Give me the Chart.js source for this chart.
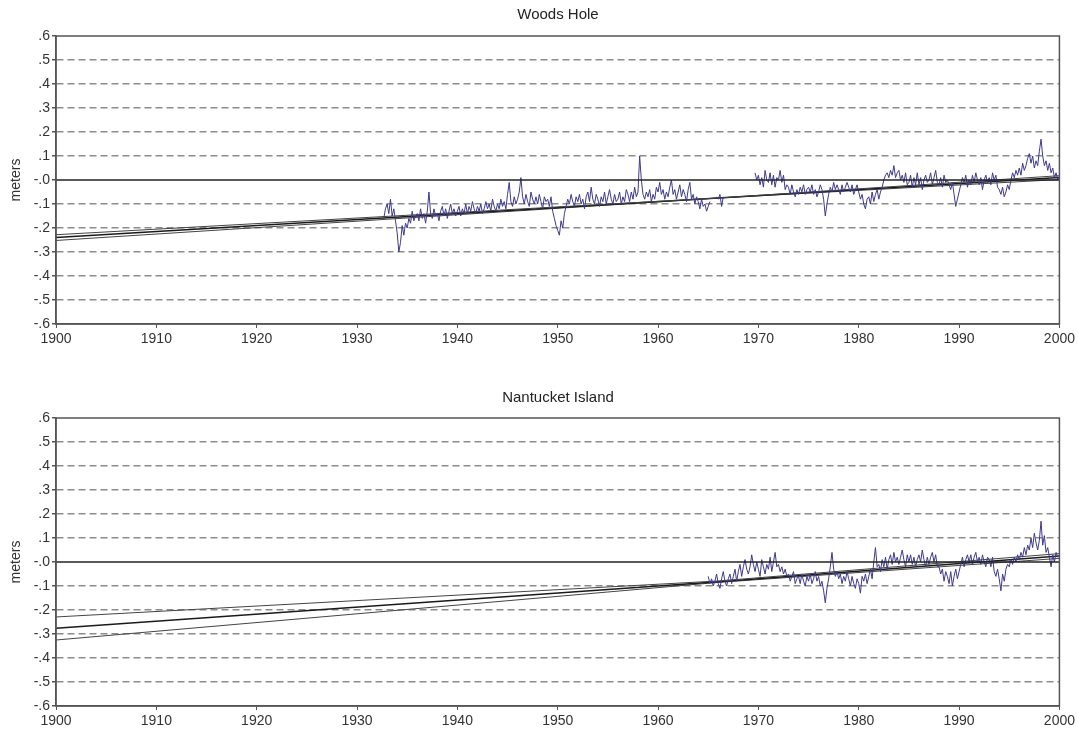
<!DOCTYPE html>
<html>
<head>
<meta charset="utf-8">
<script src="https://cdn.jsdelivr.net/npm/chart.js@4/dist/chart.umd.min.js"></script>
<style>
  body { margin: 0; background: #fff; }
  #wrap { position: relative; width: 1078px; height: 731px; }
  .box { position: absolute; left: 0; width: 1078px; height: 349px; }
  .ttl { position: absolute; left: 56px; width: 1004px; text-align: center;
         font: 15px 'Liberation Sans', Arial, sans-serif; color: #222; line-height: 18px; }
</style>
</head>
<body>
<div id="wrap">
  <div class="box" style="top:0"><canvas id="woodsChart"></canvas></div>
  <div class="box" style="top:382px"><canvas id="nantucketChart"></canvas></div>
  <div class="ttl" style="top:5px">Woods Hole</div>
  <div class="ttl" style="top:388px">Nantucket Island</div>
</div>
<script>
// x ticks (years) and y ticks (meters)
const yearTicks = [1900, 1910, 1920, 1930, 1940, 1950, 1960, 1970, 1980, 1990, 2000];
const meterTicks = [0.6, 0.5, 0.4, 0.3, 0.2, 0.1, 0, -0.1, -0.2, -0.3, -0.4, -0.5, -0.6];

// Woods Hole: bimonthly readings, first one at 1932.67 (null = no data)
const woodsStart = 1932 + 4 / 6;
const woodsValues = [
  -0.16, -0.12,                               // 1932
  -0.10, -0.14, -0.08, -0.15, -0.12, -0.17,   // 1933
  -0.22, -0.30, -0.26, -0.19, -0.23, -0.18,   // 1934
  -0.20, -0.16, -0.18, -0.13, -0.17, -0.15,   // 1935
  -0.14, -0.17, -0.12, -0.16, -0.14, -0.18,   // 1936
  -0.13, -0.05, -0.14, -0.16, -0.12, -0.15,   // 1937
  -0.14, -0.17, -0.13, -0.11, -0.15, -0.12,   // 1938
  -0.16, -0.13, -0.10, -0.14, -0.12, -0.15,   // 1939
  -0.13, -0.11, -0.15, -0.12, -0.14, -0.10,   // 1940
  -0.14, -0.11, -0.13, -0.09, -0.12, -0.14,   // 1941
  -0.11, -0.13, -0.10, -0.14, -0.12, -0.09,   // 1942
  -0.12, -0.10, -0.13, -0.08, -0.11, -0.13,   // 1943
  -0.10, -0.12, -0.08, -0.11, -0.09, -0.12,   // 1944
  -0.06, -0.01, -0.09, -0.11, -0.07, -0.10,   // 1945
  -0.08, -0.05, 0.01, -0.07, -0.10, -0.06,    // 1946
  -0.09, -0.11, -0.05, -0.08, -0.10, -0.07,   // 1947
  -0.10, -0.06, -0.09, -0.12, -0.07, -0.09,   // 1948
  -0.08, -0.11, -0.07, -0.13, -0.16, -0.19,   // 1949
  -0.21, -0.23, -0.17, -0.20, -0.14, -0.11,   // 1950
  -0.08, -0.10, -0.06, -0.09, -0.11, -0.07,   // 1951
  -0.09, -0.06, -0.10, -0.08, -0.12, -0.07,   // 1952
  -0.05, -0.09, -0.03, -0.08, -0.10, -0.06,   // 1953
  -0.08, -0.11, -0.07, -0.09, -0.05, -0.10,   // 1954
  -0.07, -0.04, -0.08, -0.10, -0.06, -0.09,   // 1955
  -0.08, -0.05, -0.10, -0.07, -0.09, -0.04,   // 1956
  -0.06, -0.09, -0.05, -0.08, -0.03, -0.07,   // 1957
  -0.05, 0.10, 0.00, -0.06, -0.08, -0.05,     // 1958
  -0.07, -0.04, -0.09, -0.06, -0.08, -0.03,   // 1959
  -0.05, -0.01, -0.06, -0.04, -0.08, -0.05,   // 1960
  -0.07, -0.03, 0.00, -0.06, -0.04, -0.08,    // 1961
  -0.05, -0.02, -0.07, -0.04, -0.06, -0.09,   // 1962
  -0.04, -0.01, -0.08, -0.06, -0.10, -0.07,   // 1963
  -0.09, -0.12, -0.08, -0.11, -0.10, -0.13,   // 1964
  -0.11, -0.09, null, null, null, -0.07,      // 1965
  -0.08, -0.06, -0.11, -0.07, null, null,     // 1966
  null, null, null, null, null, null,         // 1967
  null, null, null, null, null, null,         // 1968
  null, null, null, null, 0.03, 0.00,         // 1969
  0.02, -0.02, 0.01, -0.03, 0.04, 0.00,       // 1970
  -0.01, 0.03, -0.02, 0.02, -0.03, 0.01,      // 1971
  0.00, 0.04, -0.01, 0.02, -0.04, -0.02,      // 1972
  -0.03, -0.06, -0.02, -0.05, -0.07, -0.04,   // 1973
  -0.06, -0.03, -0.05, -0.02, -0.06, -0.04,   // 1974
  -0.03, -0.05, -0.02, -0.06, -0.04, -0.07,   // 1975
  -0.05, -0.02, -0.04, -0.08, -0.15, -0.10,   // 1976
  -0.06, -0.03, -0.05, -0.01, -0.04, -0.02,   // 1977
  -0.04, -0.06, -0.02, -0.05, -0.03, -0.01,   // 1978
  -0.03, -0.05, -0.02, -0.06, -0.04, -0.02,   // 1979
  -0.05, -0.08, -0.06, -0.10, -0.12, -0.08,   // 1980
  -0.07, -0.10, -0.05, -0.09, -0.06, -0.04,   // 1981
  -0.08, -0.05, -0.03, 0.00, 0.02, 0.03,      // 1982
  0.01, 0.04, 0.02, 0.06, 0.01, 0.03,         // 1983
  0.04, 0.00, 0.02, -0.01, 0.03, -0.02,       // 1984
  -0.01, 0.02, -0.03, 0.01, -0.02, 0.03,      // 1985
  -0.02, 0.01, -0.04, 0.00, 0.02, -0.01,      // 1986
  0.00, 0.03, -0.02, 0.01, 0.04, -0.01,       // 1987
  -0.02, 0.01, -0.03, 0.02, -0.01, 0.00,      // 1988
  -0.02, -0.04, -0.01, -0.06, -0.11, -0.08,   // 1989
  -0.05, -0.02, 0.01, -0.01, 0.02, -0.03,     // 1990
  0.00, -0.02, 0.02, -0.01, 0.03, 0.00,       // 1991
  -0.02, 0.01, -0.04, 0.00, 0.02, -0.01,      // 1992
  0.01, -0.02, 0.03, 0.00, 0.02, -0.03,       // 1993
  -0.04, -0.06, -0.03, -0.07, -0.05, -0.02,   // 1994
  -0.04, 0.00, 0.03, 0.01, 0.04, 0.02,        // 1995
  0.05, 0.02, 0.07, 0.04, 0.06, 0.09,         // 1996
  0.11, 0.07, 0.10, 0.05, 0.08, 0.06,         // 1997
  0.12, 0.17, 0.10, 0.06, 0.08, 0.04,         // 1998
  0.07, 0.03, 0.05, 0.01, 0.03, 0.00,         // 1999
  0.01                                        // 2000
];

// Nantucket Island: bimonthly readings from 1965.0
const nantucketStart = 1965;
const nantucketValues = [
  -0.06, -0.09, -0.07, -0.10, -0.08, -0.05,   // 1965
  -0.09, -0.11, -0.07, -0.04, -0.08, -0.10,   // 1966
  -0.07, -0.05, -0.09, -0.06, -0.03, -0.08,   // 1967
  -0.04, -0.01, -0.06, -0.02, 0.01, -0.03,    // 1968
  -0.05, -0.02, 0.03, -0.01, -0.04, 0.00,     // 1969
  -0.03, -0.06, 0.01, -0.02, -0.05, -0.01,    // 1970
  -0.03, 0.02, -0.04, 0.00, 0.04, -0.02,      // 1971
  -0.01, -0.04, -0.02, -0.05, -0.03, -0.06,   // 1972
  -0.05, -0.08, -0.06, -0.04, -0.09, -0.07,   // 1973
  -0.06, -0.09, -0.05, -0.08, -0.10, -0.06,   // 1974
  -0.08, -0.05, -0.09, -0.07, -0.04, -0.08,   // 1975
  -0.06, -0.10, -0.08, -0.12, -0.17, -0.11,   // 1976
  -0.07, -0.02, 0.04, -0.03, -0.06, -0.04,    // 1977
  -0.07, -0.05, -0.09, -0.06, -0.08, -0.04,   // 1978
  -0.07, -0.10, -0.06, -0.09, -0.11, -0.07,   // 1979
  -0.09, -0.13, -0.06, -0.08, -0.05, -0.09,   // 1980
  -0.06, -0.03, -0.07, 0.00, 0.06, -0.02,     // 1981
  -0.01, -0.04, 0.01, -0.02, 0.02, -0.03,     // 1982
  0.01, 0.03, -0.01, 0.04, 0.00, 0.02,        // 1983
  -0.01, 0.02, 0.05, 0.01, -0.02, 0.03,       // 1984
  0.00, 0.03, -0.01, 0.02, -0.02, 0.01,       // 1985
  0.03, 0.00, 0.05, 0.01, -0.02, 0.02,        // 1986
  -0.01, 0.02, 0.04, 0.00, 0.03, -0.02,       // 1987
  -0.02, -0.05, -0.03, -0.08, -0.04, -0.06,   // 1988
  -0.09, -0.04, -0.10, -0.06, -0.03, -0.07,   // 1989
  -0.04, -0.01, 0.02, -0.02, 0.01, 0.03,      // 1990
  0.00, 0.03, -0.01, 0.02, 0.04, 0.00,        // 1991
  0.02, -0.01, 0.03, 0.00, -0.02, 0.02,       // 1992
  0.01, -0.02, 0.02, -0.04, -0.06, -0.03,     // 1993
  -0.07, -0.12, -0.05, -0.08, -0.03, -0.01,   // 1994
  -0.02, 0.01, -0.01, 0.02, 0.00, 0.03,       // 1995
  0.01, 0.04, 0.02, 0.06, 0.03, 0.07,         // 1996
  0.05, 0.10, 0.06, 0.12, 0.08, 0.05,         // 1997
  0.09, 0.17, 0.07, 0.11, 0.04, 0.06,         // 1998
  0.02, -0.02, 0.03, 0.00, 0.04, 0.02,        // 1999
  0.03                                        // 2000
];

// trend line and its two bounds (year, meters)
const woodsTrendYears = [1900, 1966, 2000];
const woodsTrendUpper = [-0.228, -0.075, 0.018];
const woodsTrendMid   = [-0.240, -0.075, 0.010];
const woodsTrendLower = [-0.252, -0.075, 0.002];

const nantucketTrendYears = [1900, 1966, 2000];
const nantucketTrendUpper = [-0.229, -0.079, 0.035];
const nantucketTrendMid   = [-0.276, -0.082, 0.025];
const nantucketTrendLower = [-0.325, -0.085, 0.015];

const FONT = "'Liberation Sans', Arial, sans-serif";

function toPoints(start, values) {
  return values.map((v, i) => ({ x: start + i / 6, y: v }));
}

function pair(xs, ys) {
  return xs.map((x, i) => ({ x: x, y: ys[i] }));
}

function tickText(v) {
  let d = Math.round(Math.abs(v) * 10);
  if (v > 0.001) return "." + d;
  return "-." + d;
}

// solid frame around the plot area
const framePlugin = {
  id: "frame",
  afterDatasetsDraw(chart) {
    const a = chart.chartArea, c = chart.ctx;
    c.save();
    c.strokeStyle = "#555";
    c.lineWidth = 1.5;
    c.strokeRect(a.left, a.top, a.right - a.left, a.bottom - a.top);
    c.restore();
  }
};

function createChart(canvasId, start, values, trendYears, up, mid, low) {
  let ctx = document.getElementById(canvasId).getContext("2d");
  const trendStyle = { borderColor: "#444", borderWidth: 1, pointRadius: 0, fill: false };
  new Chart(ctx, {
    type: "line",
    data: {
      datasets: [
        {
          data: [{ x: 1900, y: 0 }, { x: 2000, y: 0 }],
          borderColor: "#222", borderWidth: 1.5, pointRadius: 0
        },
        {
          data: toPoints(start, values),
          borderColor: "#3d3a8c", borderWidth: 1, pointRadius: 0,
          spanGaps: false, tension: 0
        },
        Object.assign({ data: pair(trendYears, up) }, trendStyle),
        Object.assign({ data: pair(trendYears, mid) }, trendStyle, { borderColor: "#1a1a1a", borderWidth: 1.5 }),
        Object.assign({ data: pair(trendYears, low) }, trendStyle)
      ]
    },
    options: {
      responsive: true,
      maintainAspectRatio: false,
      animation: false,
      layout: { padding: { left: 0, right: 18, top: 36, bottom: 0 } },
      plugins: {
        legend: { display: false },
        tooltip: { enabled: false },
        title: { display: false }
      },
      scales: {
        x: {
          type: "linear",
          min: 1900, max: 2000,
          afterBuildTicks: s => { s.ticks = yearTicks.map(v => ({ value: v })); },
          afterFit: s => { s.height = 25; },
          ticks: {
            color: "#333",
            font: { family: FONT, size: 14 },
            padding: 3,
            maxRotation: 0,
            callback: v => String(v)
          },
          grid: { drawOnChartArea: false, tickLength: 4, tickColor: "#555" },
          border: { color: "#555", width: 1.5 }
        },
        y: {
          min: -0.6, max: 0.6,
          afterBuildTicks: s => { s.ticks = meterTicks.map(v => ({ value: v })); },
          afterFit: s => { s.width = 56; },
          ticks: {
            color: "#333",
            font: { family: FONT, size: 14 },
            padding: 2,
            callback: v => tickText(v)
          },
          title: {
            display: true,
            text: "meters",
            color: "#333",
            font: { family: FONT, size: 14 },
            padding: { top: 8, bottom: 0 }
          },
          grid: {
            tickLength: 4,
            tickColor: "#555",
            lineWidth: 1.5,
            color: c => (Math.abs(c.tick.value) < 0.001 || Math.abs(Math.abs(c.tick.value) - 0.6) < 0.001) ? "rgba(0,0,0,0)" : "#8c8c8c"
          },
          border: { color: "#555", width: 1.5, dash: [7, 4] }
        }
      }
    },
    plugins: [framePlugin]
  });
}

createChart("woodsChart", woodsStart, woodsValues,
  woodsTrendYears, woodsTrendUpper, woodsTrendMid, woodsTrendLower);
createChart("nantucketChart", nantucketStart, nantucketValues,
  nantucketTrendYears, nantucketTrendUpper, nantucketTrendMid, nantucketTrendLower);
</script>
</body>
</html>
